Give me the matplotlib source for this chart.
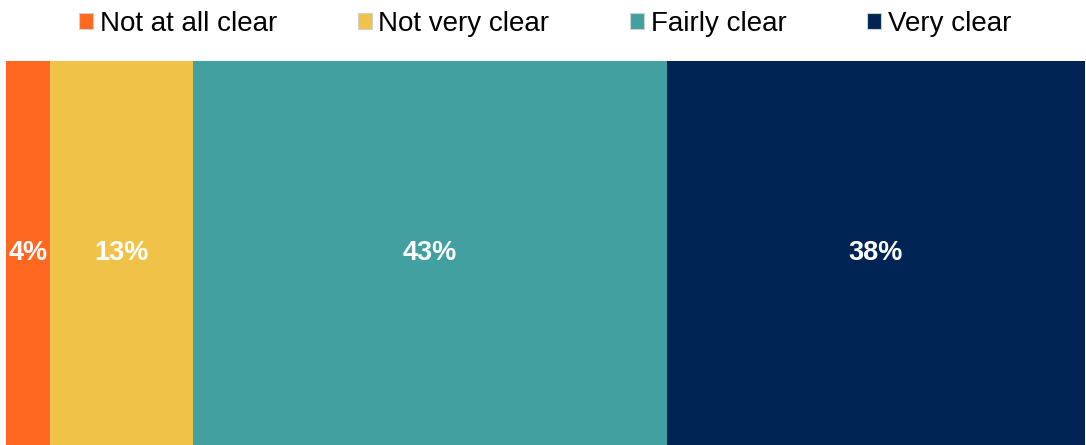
import matplotlib
matplotlib.use("Agg")
from matplotlib import pyplot as plt
from matplotlib.patches import Patch

# survey answer shares (percent)
categories = ["Not at all clear", "Not very clear", "Fairly clear", "Very clear"]
values = [4, 13, 43, 38]
colors = ["#FF6820", "#F0C248", "#42A0A0", "#002554"]

plt.rcParams['font.family'] = ['Liberation Sans', 'DejaVu Sans']

fig = plt.figure(figsize=(10.86, 4.45), dpi=100)
ax = fig.add_axes([6 / 1086, 0, (1085 - 6) / 1086, (445 - 61) / 445])

left = 0
for cat, val, col in zip(categories, values, colors):
    ax.barh(0, val, left=left, height=1, color=col, label=cat)
    ax.text(left + val / 2, 0, f"{val}%", ha='center', va='center',
            color='white', fontsize=19.5, fontweight='bold')
    left += val

ax.set_xlim(0, sum(values))
ax.set_ylim(-0.5, 0.5)
ax.axis('off')

handles = [Patch(facecolor=c, edgecolor='#d0d0d0', linewidth=0.8) for c in colors]
fig.legend(handles, categories, loc='center', bbox_to_anchor=(0.502, 0.947),
           ncol=4, frameon=False, fontsize=20, handlelength=0.5, handleheight=0.5,
           handletextpad=0.25, columnspacing=2.9, borderpad=0, borderaxespad=0)

plt.savefig("out.png", dpi=100)
